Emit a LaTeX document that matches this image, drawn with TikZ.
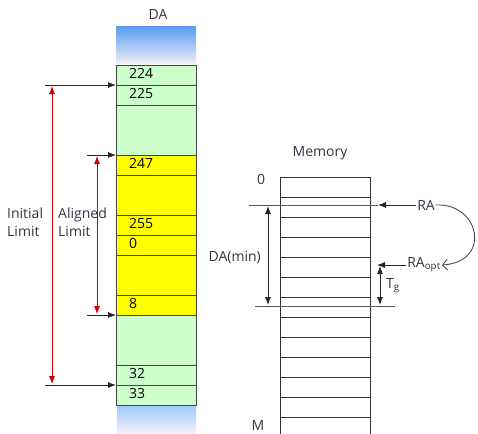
\documentclass[tikz,border=0pt]{standalone}
\usepackage{fontspec}
\setmainfont{Open Sans}
\usetikzlibrary{arrows.meta}
\definecolor{cellgreen}{HTML}{CCFFCC}
\definecolor{cellyellow}{HTML}{FFFF00}
\definecolor{gridline}{HTML}{444444}
\definecolor{lbl}{HTML}{333344}
\definecolor{redarrow}{HTML}{CC0000}
\definecolor{gradtop}{HTML}{5C9EF2}
\definecolor{gradmid}{HTML}{9CC8F8}
\definecolor{gradlow}{HTML}{F4EEF8}
\begin{document}
\begin{tikzpicture}[x=1pt,y=-1pt,
  every node/.style={font=\fontsize{14}{18}\selectfont, text=lbl},
  cell/.style={draw=gridline, line width=0.9pt, minimum width=80pt, minimum height=#1,
    text width=54pt, text height=10pt, text depth=3pt, inner xsep=13pt, inner ysep=0pt,
    outer sep=0pt, align=left, anchor=north west, text=black},
  mcell/.style={draw=black!80, line width=0.9pt, minimum width=90pt, minimum height=20pt,
    inner sep=0pt, outer sep=0pt, anchor=north west},
  blk/.style={draw=black!85, line width=0.8pt, -{Latex[length=8pt,width=6pt]}},
  blk2/.style={draw=black!85, line width=0.8pt, {Latex[length=8pt,width=6pt]}-{Latex[length=8pt,width=6pt]}},
  redar/.style={draw=redarrow, line width=0.8pt, {Latex[length=8pt,width=6pt]}-{Latex[length=8pt,width=6pt]}},
  hline/.style={draw=black!65, line width=0.9pt}
]
\useasboundingbox (0,0) rectangle (478,433);

% ---- DA column ----
\node (da) at (158,14) {DA};
\shade[top color=gradtop, bottom color=gradlow] (116,27) rectangle (196,64);
\shade[top color=gradmid, bottom color=gradlow] (117,405) rectangle (196,433);

\node[cell=20pt, fill=cellgreen] (c1) at (116,65) {224};
\node[cell=20pt, fill=cellgreen] (c2) at (c1.south west) {225};
\node[cell=50pt, fill=cellgreen] (c3) at (c2.south west) {};
\node[cell=20pt, fill=cellyellow] (c4) at (c3.south west) {247};
\node[cell=40pt, fill=cellyellow] (c5) at (c4.south west) {};
\node[cell=20pt, fill=cellyellow] (c6) at (c5.south west) {255};
\node[cell=20pt, fill=cellyellow] (c7) at (c6.south west) {0};
\node[cell=40pt, fill=cellyellow] (c8) at (c7.south west) {};
\node[cell=20pt, fill=cellyellow] (c9) at (c8.south west) {8};
\node[cell=50pt, fill=cellgreen] (c10) at (c9.south west) {};
\node[cell=20pt, fill=cellgreen] (c11) at (c10.south west) {32};
\node[cell=20pt, fill=cellgreen] (c12) at (c11.south west) {33};

\coordinate (a1) at (45,85);
\coordinate (a2) at (87,155);
\coordinate (a3) at (87,315);
\coordinate (a4) at (45,385);
\draw[blk] (a1) -- (c2.north west);
\draw[blk] (a2) -- (c4.north west);
\draw[blk] (a3) -- (c10.north west);
\draw[blk] (a4) -- (c12.north west);

\coordinate (i1) at (52,86);
\coordinate (i2) at (52,384);
\coordinate (g1) at (97,156);
\coordinate (g2) at (97,314);
\draw[redar] (i1) -- (i2);
\draw[redar] (g1) -- (g2);

\node[anchor=west, align=left, inner sep=0pt] (initial) at (7,222) {Initial\\Limit};
\node[anchor=west, align=left, inner sep=0pt] (aligned) at (58,222) {Aligned\\Limit};

% ---- Memory column ----
\node (mem) at (320,153) {Memory};
\node (zero) at (261,179) {0};
\node (mm) at (258,425) {M};
\foreach \i in {0,...,12} {
  \node[mcell] (m\i) at (280,{177+20*\i}) {};
}

\node[inner sep=1pt] (ra) at (426,205) {RA};
\node[inner sep=1pt] (raopt) at (424,265) {RA\textsubscript{opt}};
\coordinate (l1) at (249,205);
\coordinate (r1) at (378,205);
\draw[hline] (l1) -- (r1);
\draw[blk] (ra.west) -- (r1);
\coordinate (r2) at (377,265);
\draw[blk] (raopt.west) -- (r2);

\coordinate (l2) at (255,306);
\coordinate (l3) at (395,306);
\draw[hline] (l2) -- (l3);

\coordinate (d1) at (268,206);
\coordinate (d2) at (268,305);
\draw[blk2] (d1) -- (d2);
\node[anchor=east, inner sep=0pt] (damin) at (261,257) {DA(min)};

\coordinate (t1) at (380,266);
\coordinate (t2) at (380,305);
\draw[blk2] (t1) -- (t2);
\node[anchor=west, inner sep=0pt] (tg) at (386,286) {T\textsubscript{g}};

\draw[draw=black!70, line width=0.9pt, -{Straight Barb[length=5pt,width=11pt]}]
  (ra.east) .. controls (480,203) and (492,262) .. (raopt.east);
\end{tikzpicture}
\end{document}
